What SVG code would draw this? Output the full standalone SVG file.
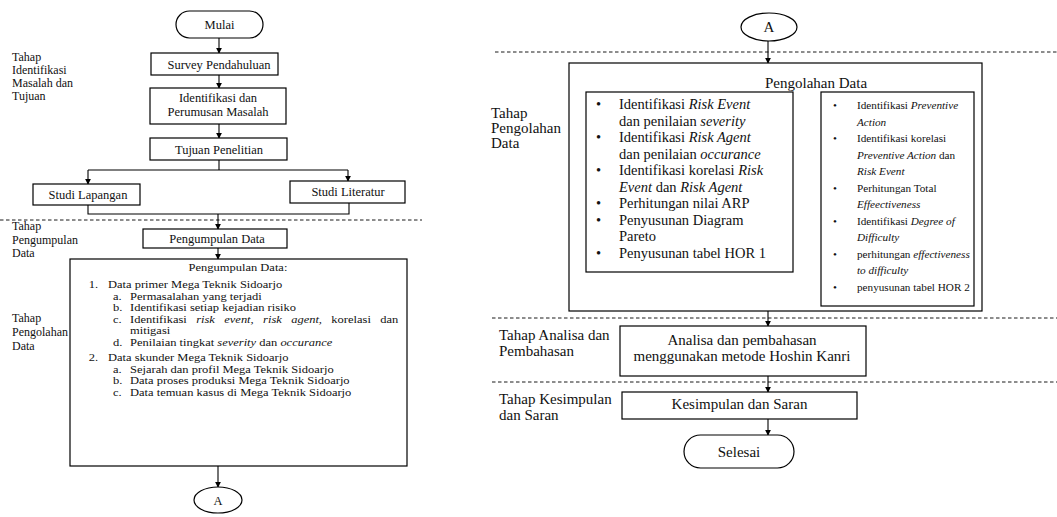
<svg xmlns="http://www.w3.org/2000/svg" width="1057" height="517" viewBox="0 0 1057 517" font-family="'Liberation Serif','DejaVu Serif',serif">
<defs>
<marker id="ah" viewBox="0 0 8 8" refX="7" refY="4" markerWidth="6" markerHeight="6" orient="auto" markerUnits="userSpaceOnUse">
<path d="M0,0 L8,4 L0,8 z" fill="#000"/>
</marker>
<style>
.box{fill:#fff;stroke:#000;stroke-width:1.2}
.ln{fill:none;stroke:#000;stroke-width:1.1}
.ar{fill:none;stroke:#000;stroke-width:1.1;marker-end:url(#ah)}
.dash{fill:none;stroke:#000;stroke-width:0.9;stroke-dasharray:3.5,2.5}
text{font-family:'Liberation Serif','DejaVu Serif',serif;fill:#111}
.s{font-size:12.5px}
.l{font-size:12px}
.b{font-size:10px}
.m{font-size:15px}
.n{font-size:14.5px}
.r{font-size:11.2px}
.c{text-anchor:middle}
.i{font-style:italic}
</style>
</defs>
<rect width="1057" height="517" fill="#fff"/>

<g id="dividers">
<line class="dash" x1="0" y1="220" x2="422" y2="220"/>
<line class="dash" x1="495" y1="52" x2="1057" y2="52"/>
<line class="dash" x1="492" y1="318" x2="1057" y2="318"/>
<line class="dash" x1="492" y1="382" x2="1057" y2="382"/>
</g>

<g id="labels">
<text class="l"><tspan x="12" y="61">Tahap</tspan><tspan x="12" y="74">Identifikasi</tspan><tspan x="12" y="87">Masalah dan</tspan><tspan x="12" y="100">Tujuan</tspan></text>
<text class="l"><tspan x="12" y="230">Tahap</tspan><tspan x="12" y="244">Pengumpulan</tspan><tspan x="12" y="257">Data</tspan></text>
<text class="l"><tspan x="12" y="322">Tahap</tspan><tspan x="12" y="336">Pengolahan</tspan><tspan x="12" y="350">Data</tspan></text>
<text class="m"><tspan x="491" y="118">Tahap</tspan><tspan x="491" y="133">Pengolahan</tspan><tspan x="491" y="148">Data</tspan></text>
<text class="m"><tspan x="499" y="340">Tahap Analisa dan</tspan><tspan x="499" y="356">Pembahasan</tspan></text>
<text class="m"><tspan x="499" y="404">Tahap Kesimpulan</tspan><tspan x="499" y="420">dan Saran</tspan></text>
</g>

<g id="connectors">
<line class="ar" x1="219" y1="38" x2="219" y2="53"/>
<line class="ar" x1="219" y1="75" x2="219" y2="88"/>
<line class="ar" x1="219" y1="124" x2="219" y2="138"/>
<polyline class="ln" points="219,160 219,170"/>
<line class="ln" x1="88" y1="170" x2="348" y2="170"/>
<line class="ar" x1="88" y1="170" x2="88" y2="184"/>
<line class="ar" x1="348" y1="170" x2="348" y2="181"/>
<polyline class="ln" points="88,205 88,214 349,214 349,203"/>
<line class="ar" x1="218" y1="214" x2="218" y2="229"/>
<line class="ar" x1="218" y1="248" x2="218" y2="259"/>
<line class="ar" x1="218" y1="466" x2="218" y2="487"/>
<line class="ar" x1="768" y1="41" x2="768" y2="63"/>
<line class="ar" x1="797" y1="173" x2="816" y2="173"/>
<line class="ar" x1="768" y1="311" x2="768" y2="326"/>
<line class="ar" x1="768" y1="376" x2="768" y2="392"/>
<line class="ar" x1="768" y1="419" x2="768" y2="435"/>
</g>

<g id="mulai">
<rect class="box" x="176" y="11" width="87" height="27" rx="13.5"/>
<text class="s c" x="219.5" y="29">Mulai</text>
</g>
<g id="survey">
<rect class="box" x="151" y="53" width="127" height="22"/>
<text class="s c" x="219" y="68.5">Survey Pendahuluan</text>
</g>
<g id="identifikasi">
<rect class="box" x="150" y="88" width="136" height="36"/>
<text class="s c" x="218" y="102">Identifikasi dan</text>
<text class="s c" x="218" y="115.5">Perumusan Masalah</text>
</g>
<g id="tujuan">
<rect class="box" x="150" y="138" width="137" height="22"/>
<text class="s c" x="219" y="153.5">Tujuan Penelitian</text>
</g>
<g id="studi-lapangan">
<rect class="box" x="33" y="184" width="107" height="21"/>
<text class="s c" x="88" y="198.5">Studi Lapangan</text>
</g>
<g id="studi-literatur">
<rect class="box" x="290" y="181" width="115" height="22"/>
<text class="s c" x="348" y="196">Studi Literatur</text>
</g>
<g id="pengumpulan">
<rect class="box" x="143" y="229" width="144" height="19"/>
<text class="s c" x="217" y="243">Pengumpulan Data</text>
</g>
<g id="pengumpulan-detail">
<rect class="box" x="70" y="259" width="337" height="207"/>
<g class="b" transform="scale(1.25,1)">
<text class="c" x="190.4" y="271">Pengumpulan Data:</text>
<text x="71" y="288.5">1.</text><text x="86.4" y="288.5">Data primer Mega Teknik Sidoarjo</text>
<text x="90.4" y="300">a.</text><text x="104" y="300">Permasalahan yang terjadi</text>
<text x="90.4" y="311.5">b.</text><text x="104" y="311.5">Identifikasi setiap kejadian risiko</text>
<text x="90.4" y="323">c.</text><text x="104" y="323" word-spacing="5">Identifikasi <tspan class="i">risk event, risk agent,</tspan> korelasi dan</text>
<text x="104" y="334.5">mitigasi</text>
<text x="90.4" y="346">d.</text><text x="104" y="346">Penilaian tingkat <tspan class="i">severity</tspan> dan <tspan class="i">occurance</tspan></text>
<text x="71" y="361.5">2.</text><text x="86.4" y="361.5">Data skunder Mega Teknik Sidoarjo</text>
<text x="90.4" y="373">a.</text><text x="104" y="373">Sejarah dan profil Mega Teknik Sidoarjo</text>
<text x="90.4" y="384.5">b.</text><text x="104" y="384.5">Data proses produksi Mega Teknik Sidoarjo</text>
<text x="90.4" y="396">c.</text><text x="104" y="396">Data temuan kasus di Mega Teknik Sidoarjo</text>
</g>
</g>
<g id="a-left">
<ellipse class="box" cx="218" cy="500" rx="24" ry="13"/>
<text class="s c" x="218" y="504.5">A</text>
</g>

<g id="a-right">
<ellipse class="box" cx="769" cy="27" rx="28" ry="14"/>
<text class="m c" x="769" y="32">A</text>
</g>
<g id="pengolahan">
<rect class="box" x="569" y="63" width="413" height="248"/>
<text class="m" x="765" y="88">Pengolahan Data</text>
</g>
<g id="pengolahan-hor1">
<rect class="box" x="586" y="92" width="207" height="180"/>
<g class="n">
<text x="596" y="109">•</text><text x="619" y="109">Identifikasi <tspan class="i">Risk Event</tspan></text>
<text x="619" y="125.5">dan penilaian <tspan class="i">severity</tspan></text>
<text x="596" y="142">•</text><text x="619" y="142">Identifikasi <tspan class="i">Risk Agent</tspan></text>
<text x="619" y="158.5">dan penilaian <tspan class="i">occurance</tspan></text>
<text x="596" y="175">•</text><text x="619" y="175">Identifikasi korelasi <tspan class="i">Risk</tspan></text>
<text x="619" y="191.5"><tspan class="i">Event</tspan> dan <tspan class="i">Risk Agent</tspan></text>
<text x="596" y="208">•</text><text x="619" y="208">Perhitungan nilai ARP</text>
<text x="596" y="224.5">•</text><text x="619" y="224.5">Penyusunan Diagram</text>
<text x="619" y="241">Pareto</text>
<text x="596" y="257.5">•</text><text x="619" y="257.5">Penyusunan tabel HOR 1</text>
</g>
</g>
<g id="pengolahan-hor2">
<rect class="box" x="821" y="92" width="153" height="214"/>
<g class="r">
<text x="833" y="109">•</text><text x="857" y="109">Identifikasi <tspan class="i">Preventive</tspan></text>
<text x="857" y="125.5" class="i">Action</text>
<text x="833" y="142">•</text><text x="857" y="142">Identifikasi korelasi</text>
<text x="857" y="158.5"><tspan class="i">Preventive Action</tspan> dan</text>
<text x="857" y="175" class="i">Risk Event</text>
<text x="833" y="191.5">•</text><text x="857" y="191.5">Perhitungan Total</text>
<text x="857" y="208" class="i">Effeectiveness</text>
<text x="833" y="224.5">•</text><text x="857" y="224.5">Identifikasi <tspan class="i">Degree of</tspan></text>
<text x="857" y="241" class="i">Difficulty</text>
<text x="833" y="257.5">•</text><text x="857" y="257.5">perhitungan <tspan class="i">effectiveness</tspan></text>
<text x="857" y="274" class="i">to difficulty</text>
<text x="833" y="290.5">•</text><text x="857" y="290.5">penyusunan tabel HOR 2</text>
</g>
</g>
<g id="analisa">
<rect class="box" x="620" y="326" width="246" height="50"/>
<text class="m c" x="742" y="345">Analisa dan pembahasan</text>
<text class="m c" x="742" y="361">menggunakan metode Hoshin Kanri</text>
</g>
<g id="kesimpulan">
<rect class="box" x="622" y="392" width="235" height="27"/>
<text class="m c" x="739.5" y="408.5">Kesimpulan dan Saran</text>
</g>
<g id="selesai">
<rect class="box" x="684" y="435" width="110" height="33" rx="16.5"/>
<text class="m c" x="739" y="456.5">Selesai</text>
</g>
</svg>
